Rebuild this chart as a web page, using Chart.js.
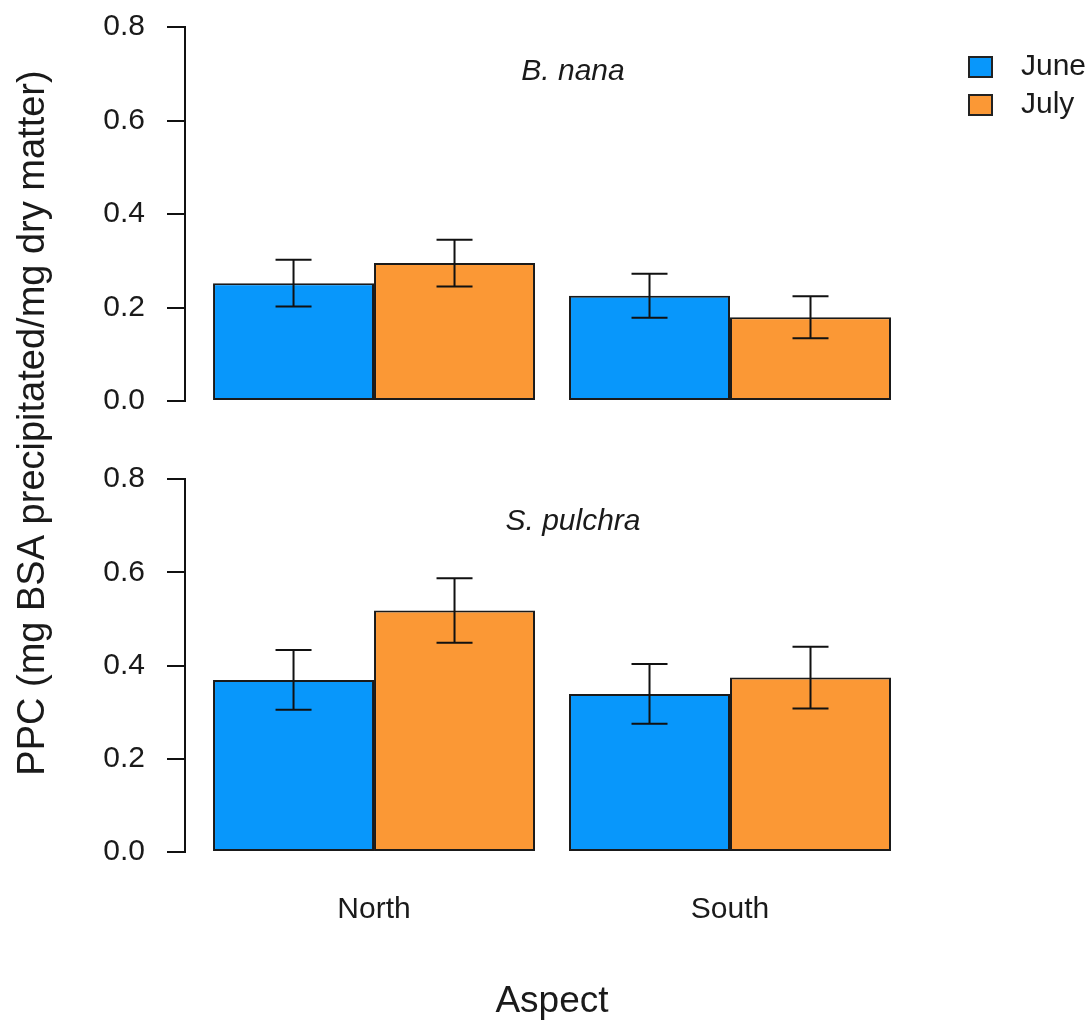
<!DOCTYPE html>
<html>
<head>
<meta charset="utf-8">
<script src="https://cdn.jsdelivr.net/npm/chart.js@4.4.1/dist/chart.umd.min.js"></script>
<style>
  html, body { margin: 0; padding: 0; background: #fff; }
  .wrap { position: relative; width: 1091px; height: 1025px; }
  canvas { position: absolute; left: 0; top: 0; }
</style>
</head>
<body>
<div class="wrap">
  <canvas id="nanaChart" width="1091" height="1025"></canvas>
  <canvas id="pulchraChart" width="1091" height="1025"></canvas>
</div>
<script>
const aspects = ['North', 'South'];
const months = ['June', 'July'];
const yTicks = [0, 0.2, 0.4, 0.6, 0.8];

// B. nana
const nanaJune = [0.252, 0.225];
const nanaJuly = [0.295, 0.179];
const nanaJuneErr = [0.050, 0.047];
const nanaJulyErr = [0.050, 0.045];

// S. pulchra
const pulchraJune = [0.369, 0.339];
const pulchraJuly = [0.518, 0.374];
const pulchraJuneErr = [0.064, 0.064];
const pulchraJulyErr = [0.069, 0.066];

const FONT = '"Liberation Sans", Arial, sans-serif';
const TEXT = '#1a1a1a';
const BLUE = '#0897fb';
const ORANGE = '#fb9835';

const errorBars = {
    id: 'errorBars',
    afterDatasetsDraw(chart) {
        const ctx = chart.ctx;
        const y = chart.scales.y;
        ctx.save();
        ctx.strokeStyle = '#111';
        ctx.lineWidth = 2;
        chart.data.datasets.forEach((ds, di) => {
            chart.getDatasetMeta(di).data.forEach((bar, i) => {
                const v = ds.data[i].y;
                const e = ds.errors[i];
                const top = y.getPixelForValue(v + e);
                const bot = y.getPixelForValue(v - e);
                ctx.beginPath();
                ctx.moveTo(bar.x, top); ctx.lineTo(bar.x, bot);
                ctx.moveTo(bar.x - 18, top); ctx.lineTo(bar.x + 18, top);
                ctx.moveTo(bar.x - 18, bot); ctx.lineTo(bar.x + 18, bot);
                ctx.stroke();
            });
        });
        ctx.restore();
    }
};

// free text: panel titles, legend, axis titles
const extraText = {
    id: 'extraText',
    afterDraw(chart, args, opts) {
        const ctx = chart.ctx;
        ctx.save();
        ctx.fillStyle = TEXT;
        ctx.textBaseline = 'middle';
        ctx.textAlign = 'center';
        ctx.font = 'italic 30px ' + FONT;
        ctx.fillText(opts.species, 573, opts.speciesY);

        if (opts.legend) {
            chart.data.datasets.forEach((ds, i) => {
                const yy = 67 + i * 38;
                ctx.fillStyle = ds.backgroundColor;
                ctx.fillRect(969, yy - 10, 23, 20);
                ctx.strokeStyle = '#222';
                ctx.lineWidth = 2;
                ctx.strokeRect(969, yy - 10, 23, 20);
                ctx.fillStyle = TEXT;
                ctx.textAlign = 'left';
                ctx.font = '30px ' + FONT;
                ctx.fillText(ds.label, 1021, yy);
            });
        }

        if (opts.axisTitles) {
            ctx.fillStyle = TEXT;
            ctx.textAlign = 'center';
            ctx.font = '37px ' + FONT;
            ctx.fillText('Aspect', 552, 1002);
            ctx.font = '38px ' + FONT;
            ctx.translate(34, 423);
            ctx.rotate(-Math.PI / 2);
            ctx.fillText('PPC (mg BSA precipitated/mg dry matter)', 0, 0);
        }
        ctx.restore();
    }
};

function makeChart(id, june, july, juneErr, julyErr, cfg) {
    const ctx = document.getElementById(id).getContext('2d');
    return new Chart(ctx, {
        type: 'bar',
        data: {
            datasets: [{
                label: months[0],
                data: june.map((v, i) => ({ x: i, y: v })),
                errors: juneErr,
                backgroundColor: BLUE
            }, {
                label: months[1],
                data: july.map((v, i) => ({ x: i, y: v })),
                errors: julyErr,
                backgroundColor: ORANGE
            }]
        },
        options: {
            responsive: false,
            animation: false,
            devicePixelRatio: 1,
            layout: { padding: cfg.padding },
            datasets: {
                bar: {
                    borderColor: '#1a1a1a',
                    borderWidth: 2,
                    borderSkipped: false,
                    categoryPercentage: 0.9045,
                    barPercentage: 1
                }
            },
            plugins: {
                legend: { display: false },
                tooltip: { enabled: false },
                extraText: cfg.text
            },
            scales: {
                x: {
                    type: 'linear',
                    display: cfg.showX,
                    offset: false,
                    min: -0.531,
                    max: 1.5,
                    afterFit: s => { s.height = cfg.showX ? 173 : 0; },
                    grid: { display: false, drawTicks: false },
                    border: { display: false },
                    ticks: {
                        stepSize: 1,
                        includeBounds: false,
                        autoSkip: false,
                        maxRotation: 0,
                        padding: 40,
                        color: TEXT,
                        font: { family: FONT, size: 30 },
                        callback: v => aspects[v] ?? ''
                    }
                },
                y: {
                    min: 0,
                    max: 0.8,
                    afterFit: s => {
                        s.width = 185;
                        s.paddingTop = 0;
                        s.paddingBottom = 0;
                    },
                    afterBuildTicks: s => { s.ticks = yTicks.map(v => ({ value: v })); },
                    grid: {
                        drawOnChartArea: false,
                        drawTicks: true,
                        tickLength: 18,
                        color: '#111',
                        lineWidth: 2
                    },
                    border: { display: true, color: '#111', width: 2 },
                    ticks: {
                        padding: 22,
                        color: TEXT,
                        font: { family: FONT, size: 30 },
                        callback: v => v.toFixed(1)
                    }
                }
            }
        },
        plugins: [errorBars, extraText]
    });
}

makeChart('nanaChart', nanaJune, nanaJuly, nanaJuneErr, nanaJulyErr, {
    padding: { top: 27, right: 183, bottom: 624, left: 0 },
    showX: false,
    text: { species: 'B. nana', speciesY: 72, legend: true, axisTitles: false }
});

makeChart('pulchraChart', pulchraJune, pulchraJuly, pulchraJuneErr, pulchraJulyErr, {
    padding: { top: 479, right: 183, bottom: 0, left: 0 },
    showX: true,
    text: { species: 'S. pulchra', speciesY: 522, legend: false, axisTitles: true }
});
</script>
</body>
</html>
